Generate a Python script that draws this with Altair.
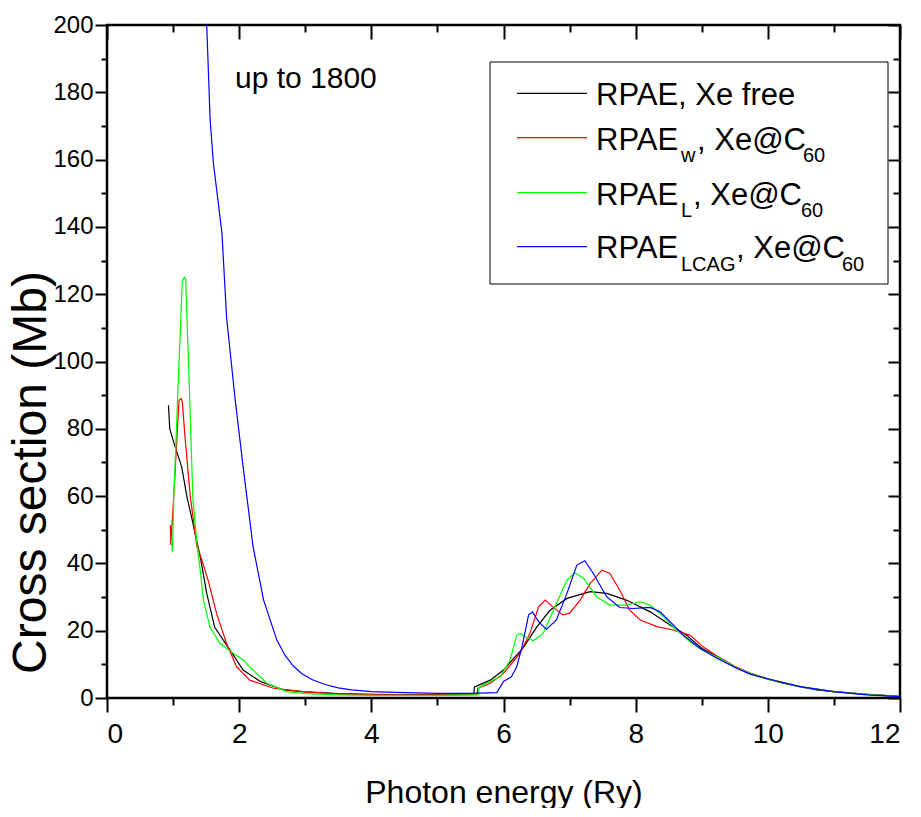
import altair as alt
import pandas as pd

# ---------------- data ----------------
series_names = ["RPAE, Xe free", "RPAE_w, Xe@C60", "RPAE_L, Xe@C60", "RPAE_LCAG, Xe@C60"]
series_colors = ["#000000", "#ff0000", "#00ff00", "#0000ff"]

free_x = [0.93, 0.95, 1.03, 1.13, 1.21, 1.30, 1.41, 1.51, 1.63, 1.86, 2.06, 2.32, 2.67, 3.0, 3.5, 4.0,
          4.5, 5.0, 5.55, 5.56, 5.80, 6.0, 6.3, 6.5, 6.7, 6.96, 7.31, 7.56, 7.86, 8.22, 8.52, 8.78,
          8.82, 9.0, 9.23, 9.5, 9.73, 10.0, 10.23, 10.5, 10.74, 11.0, 11.5, 12.0]
free_y = [87, 80, 74.7, 68.7, 59.8, 52, 42, 31, 21, 14.3, 8.3, 4.9, 2.4, 1.8, 1.3, 1.1,
          1.0, 1.0, 1.1, 3.3, 5.3, 8.3, 15, 21, 26, 29.6, 31.6, 31.1, 29.1, 25.6, 21.7, 18.6,
          17.8, 14.8, 12.3, 9.2, 7.3, 5.6, 4.4, 3.3, 2.4, 1.9, 1.1, 0.5]

w_x = [0.96, 0.965, 1.01, 1.09, 1.12, 1.14, 1.18, 1.26, 1.36, 1.41, 1.53, 1.66, 1.81, 1.96, 2.16,
       2.52, 3.0, 3.5, 4.0, 4.5, 5.0, 5.60, 5.61, 5.8, 6.0, 6.25, 6.4, 6.53, 6.63, 6.75, 6.9, 7.0,
       7.16, 7.31, 7.49, 7.61, 7.76, 7.91, 8.07, 8.32, 8.57, 8.82, 9.02, 9.23, 9.5, 9.73, 10.0,
       10.5, 11.0, 11.5, 12.0]
w_y = [51.4, 45.5, 60, 88.5, 89, 88, 77.6, 60, 45, 42.5, 35, 25, 16.2, 9.3, 5.3,
       2.9, 1.8, 1.2, 1.0, 0.9, 0.9, 1.0, 2.9, 4.4, 7.3, 13.3, 19.2, 27, 29.1, 27, 24.7, 25.2,
       29.1, 34, 38, 37, 32, 26.1, 23.2, 21.2, 20.2, 18.7, 15.2, 12.5, 9.4, 7.4, 5.7,
       3.3, 1.9, 1.1, 0.5]

l_x = [0.975, 0.99, 1.01, 1.08, 1.14, 1.17, 1.19, 1.25, 1.30, 1.36, 1.41, 1.46, 1.56, 1.71, 1.91,
       2.06, 2.21, 2.42, 2.72, 3.0, 3.5, 4.0, 4.5, 5.0, 5.62, 5.63, 5.69, 5.95, 6.1, 6.2, 6.25,
       6.33, 6.45, 6.6, 6.8, 6.96, 7.08, 7.21, 7.41, 7.61, 7.86, 8.07, 8.22, 8.42, 8.62, 8.82,
       9.0, 9.23, 9.5, 9.73, 10.0, 10.5, 11.0, 11.5, 12.0]
l_y = [47, 43.3, 59, 95, 124, 125, 124.5, 90, 59, 46, 38, 29, 21, 16.2, 13.3,
       11.3, 8.3, 4.4, 1.9, 1.3, 0.9, 0.8, 0.8, 0.8, 1.0, 3.0, 3.9, 6.3, 11.3, 18.7, 19.2,
       18.2, 17, 19.2, 28.1, 35, 37.2, 35.6, 30.1, 27.6, 27.6, 28.6, 27.6, 24.2, 20.2, 16.7,
       14.4, 12.2, 9.3, 7.3, 5.6, 3.3, 1.9, 1.1, 0.5]

lcag_x = [0.95, 1.1, 1.25, 1.4, 1.5, 1.56, 1.61, 1.74, 1.81, 1.94, 2.06, 2.21, 2.37, 2.57, 2.7,
          2.82, 2.95, 3.1, 3.3, 3.5, 3.7, 4.0, 4.5, 5.0, 5.5, 5.9, 6.0, 6.12, 6.2, 6.28, 6.38,
          6.44, 6.53, 6.65, 6.8, 6.96, 7.11, 7.23, 7.36, 7.56, 7.76, 7.96, 8.22, 8.37, 8.52,
          8.72, 8.97, 9.23, 9.48, 9.73, 9.98, 10.49, 10.99, 11.5, 12.0]
lcag_y = [1800, 1200, 600, 320, 205, 172, 159, 138, 113, 88.6, 68.7, 45, 29.1, 17.2, 12.5,
          9.5, 7.2, 5.5, 4.0, 3.0, 2.4, 1.9, 1.6, 1.4, 1.4, 1.6, 4.9, 6.3, 9.3, 15.2, 24.7,
          25.6, 22.7, 20.4, 23.2, 31.1, 39.5, 40.8, 37, 30.1, 26.9, 26.6, 26.9, 25.6, 22.7,
          18.7, 14.8, 11.8, 9.3, 7.1, 5.8, 3.4, 1.9, 0.9, 0.4]

x_major = [0, 2, 4, 6, 8, 10, 12]
x_minor = [1, 3, 5, 7, 9, 11]
y_major = [0, 20, 40, 60, 80, 100, 120, 140, 160, 180, 200]
y_minor = [10, 30, 50, 70, 90, 110, 130, 150, 170, 190]

# ---------------- table ----------------
rows = []
for order, (name, xs_, ys_) in enumerate(zip(series_names,
                                             [free_x, w_x, l_x, lcag_x],
                                             [free_y, w_y, l_y, lcag_y])):
    for xv, yv in zip(xs_, ys_):
        rows.append({"series": name, "E": xv, "sigma": yv, "o": order})
df = pd.DataFrame(rows)

W, H = 793, 673
REG = "Liberation Sans, Arial, sans-serif"

xs = alt.Scale(domain=[0, 12], nice=False, zero=False)
ys = alt.Scale(domain=[0, 200], nice=False, zero=False)
color = alt.Color("series:N", scale=alt.Scale(domain=series_names, range=series_colors), legend=None)

common_axis = dict(domain=False, tickColor="black", tickWidth=2, grid=False)

lines = alt.Chart(df).mark_line(clip=True, strokeWidth=1.2).encode(
    x=alt.X("E:Q", scale=xs, axis=alt.Axis(
        orient="bottom", values=x_major, tickSize=14, labelFontSize=28, labelFont=REG,
        labelColor="black", labelPadding=8, format="d",
        title="Photon energy (Ry)", titleFont=REG, titleFontSize=32, titleFontWeight="normal",
        titleColor="black", titleX=W / 2, titleY=104, titleBaseline="alphabetic", **common_axis)),
    y=alt.Y("sigma:Q", scale=ys, axis=alt.Axis(
        orient="left", values=y_major, tickSize=12, labelFontSize=24, labelFont=REG,
        labelColor="black", labelPadding=2, format="d",
        title="Cross section (Mb)", titleFont=REG, titleFontSize=48, titleFontWeight="normal",
        titleColor="black", titleAngle=-90, titleX=-62, titleY=447, titleAlign="center",
        titleBaseline="alphabetic", **common_axis)),
    color=color,
    detail="series:N",
    order=alt.Order("E:Q"),
)

def axis_layer(xaxis, yaxis):
    return alt.Chart(df).mark_point(opacity=0, size=1).encode(
        x=alt.X("E:Q", scale=xs, axis=xaxis),
        y=alt.Y("sigma:Q", scale=ys, axis=yaxis),
    ).transform_filter("datum.sigma <= 200")

minor_bl = axis_layer(
    alt.Axis(orient="bottom", values=x_minor, tickSize=7, labels=False, title=None, **common_axis),
    alt.Axis(orient="left", values=y_minor, tickSize=6, labels=False, title=None, **common_axis))
major_tr = axis_layer(
    alt.Axis(orient="top", values=x_major, tickSize=14, offset=-14, labels=False, title=None, **common_axis),
    alt.Axis(orient="right", values=y_major, tickSize=12, offset=-12, labels=False, title=None, **common_axis))
minor_tr = axis_layer(
    alt.Axis(orient="top", values=x_minor, tickSize=7, offset=-7, labels=False, title=None, **common_axis),
    alt.Axis(orient="right", values=y_minor, tickSize=7, offset=-7, labels=False, title=None, **common_axis))

one = pd.DataFrame({"k": [0]})

def txt(s, x, y, size, font=REG):
    return alt.Chart(one).mark_text(align="left", baseline="alphabetic", font=font,
                                    fontSize=size, color="black").encode(
        x=alt.value(x), y=alt.value(y), text=alt.value(s))

def rule(x1, x2, y, c):
    return alt.Chart(one).mark_rule(color=c, strokeWidth=1.2).encode(
        x=alt.value(x1), x2=alt.value(x2), y=alt.value(y))

box = alt.Chart(one).mark_rect(fill="white", stroke="black", strokeWidth=1).encode(
    x=alt.value(383), x2=alt.value(781), y=alt.value(37), y2=alt.value(259))

F, S = 31, 20
legend_layers = [
    box,
    rule(410, 480, 68.3, series_colors[0]),
    rule(410, 480, 112.7, series_colors[1]),
    rule(410, 480, 167.7, series_colors[2]),
    rule(410, 480, 221.7, series_colors[3]),
    txt("RPAE, Xe free", 489, 80, F),
    txt("RPAE", 489, 125, F), txt("w", 574, 137, S), txt(", Xe@C", 590, 125, F), txt("60", 696, 137, S),
    txt("RPAE", 489, 180, F), txt("L", 574, 192, S), txt(", Xe@C", 586, 180, F), txt("60", 694, 192, S),
    txt("RPAE", 489, 233, F), txt("LCAG", 574, 246, S), txt(", Xe@C", 629, 233, F), txt("60", 735, 246, S),
    txt("up to 1800", 128, 63, 30),
]

chart = alt.layer(minor_bl, major_tr, minor_tr, lines, *legend_layers).resolve_scale(
    x="shared", y="shared"
).resolve_axis(
    x="independent", y="independent"
).properties(
    width=W, height=H,
    autosize=alt.AutoSizeParams(type="none"),
    padding={"left": 99, "top": 17, "right": 13, "bottom": 110},
).configure_view(
    stroke="black", strokeWidth=2.5
)

chart.save("out.html", embed_options={"renderer": "svg", "actions": False})
